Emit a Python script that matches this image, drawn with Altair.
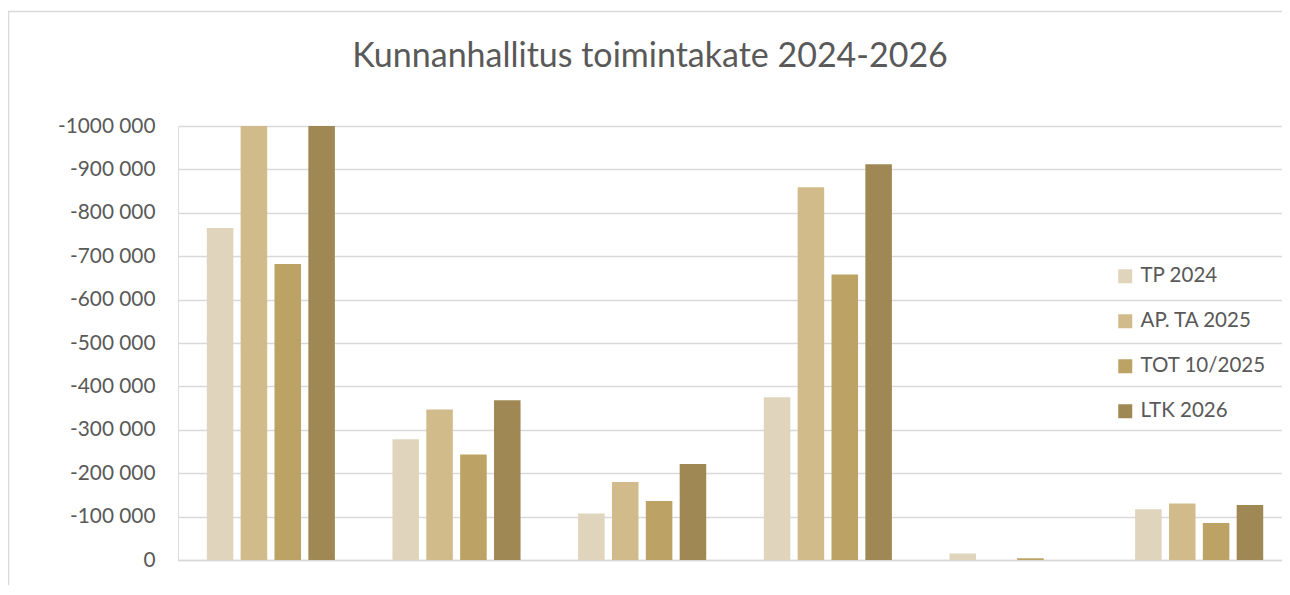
import altair as alt
import pandas as pd

groups = ["1", "2", "3", "4", "5", "6"]
series = ["TP 2024", "AP. TA 2025", "TOT 10/2025", "LTK 2026"]
colors = ["#E0D5BC", "#D1BB8A", "#BCA365", "#9F8853"]
title_text = "Kunnanhallitus toimintakate 2024-2026"

tp_2024 = [-765000, -278000, -107000, -375000, -15000, -117000]
ap_ta_2025 = [-1000000, -347000, -180000, -859000, 0, -130000]
tot_10_2025 = [-682000, -243000, -136000, -658000, -4000, -85000]
ltk_2026 = [-1000000, -368000, -221000, -912000, 0, -127000]

y_ticks = [0, -100000, -200000, -300000, -400000, -500000,
           -600000, -700000, -800000, -900000, -1000000]

rows = []
for name, vals in zip(series, [tp_2024, ap_ta_2025, tot_10_2025, ltk_2026]):
    for g, v in zip(groups, vals):
        rows.append({"ryhma": g, "sarja": name, "arvo": v})
df = pd.DataFrame(rows)

font = "Lato"
txt = "#595959"

bars = alt.Chart(df).mark_bar().encode(
    x=alt.X("ryhma:N", sort=groups, title=None,
            scale=alt.Scale(paddingInner=0.31, paddingOuter=0.155),
            axis=alt.Axis(labels=False, ticks=False, domain=True,
                          domainColor="#D9D9D9", domainWidth=1.5, grid=False)),
    xOffset=alt.XOffset("sarja:N", sort=series,
                        scale=alt.Scale(paddingInner=0.216, paddingOuter=0)),
    y=alt.Y("arvo:Q", title=None,
            scale=alt.Scale(domain=[-1000000, 0], reverse=True, nice=False),
            axis=alt.Axis(values=y_ticks, ticks=False, domain=False,
                          labelFont=font, labelFontSize=20.8, labelColor=txt,
                          labelPadding=23, gridColor="#D9D9D9", gridWidth=1.3,
                          labelExpr="datum.value == 0 ? '0' : '-' + format(abs(datum.value)/1000, 'd') + ' 000'")),
    color=alt.Color("sarja:N", sort=series,
                    scale=alt.Scale(domain=series, range=colors),
                    legend=alt.Legend(title=None, orient="none", legendX=937, legendY=140,
                                      symbolType="square", symbolSize=196,
                                      symbolStrokeWidth=0, labelFont=font,
                                      labelFontSize=20.5, labelColor=txt,
                                      labelOffset=5, rowPadding=24, labelLimit=300)),
)

frame = alt.Chart(pd.DataFrame({"k": [0]})).mark_rect(
    fill=None, stroke="#D9D9D9", strokeWidth=1.5
).encode(x=alt.value(-169.5), y=alt.value(-114.5), x2=alt.value(1400), y2=alt.value(700))

title = alt.Chart(pd.DataFrame({"t": [title_text]})).mark_text(
    font=font, fontSize=34, color=txt, align="center", baseline="alphabetic"
).encode(text="t:N", x=alt.value(472), y=alt.value(-59))

chart = alt.layer(frame, title, bars).properties(
    width=1114, height=434,
    autosize=alt.AutoSizeParams(type="none"),
    padding={"left": 170, "top": 118, "right": -10, "bottom": 25},
).configure_view(stroke=None).configure(background="white")

chart.save("out.html", embed_options={"renderer": "svg", "actions": False})
